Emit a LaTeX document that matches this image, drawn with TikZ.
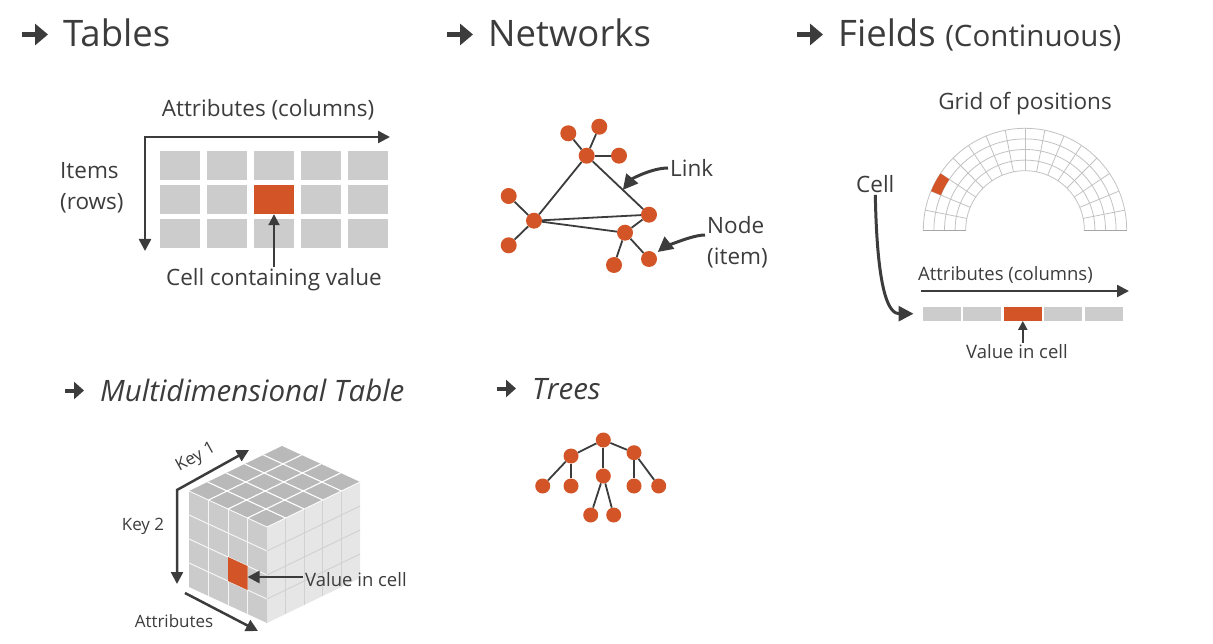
\documentclass[tikz,border=0pt]{standalone}
\usepackage{fontspec}
\setmainfont{Open Sans}
\usetikzlibrary{arrows.meta,calc}

\definecolor{ink}{HTML}{3C3C3C}
\definecolor{accent}{HTML}{D35427}
\definecolor{cellgray}{HTML}{CCCCCC}
\definecolor{polargrid}{HTML}{C2C2C2}
\definecolor{polarbase}{HTML}{A6A6A6}
\definecolor{cubetop}{HTML}{B9B9B9}
\definecolor{cubeleft}{HTML}{CBCBCB}
\definecolor{cuberight}{HTML}{E6E6E6}

\begin{document}
\begin{tikzpicture}[x=1pt,y=-1pt,
  hdr/.style={font=\fontsize{36.5}{40}\selectfont, text=ink, anchor=base west, inner sep=0pt},
  hdri/.style={font=\fontsize{29.5}{33}\selectfont\itshape, text=ink, anchor=base west, inner sep=0pt},
  hdrarrow/.style={draw=ink, line width=5pt, -{Triangle[length=13pt,width=21pt]}},
  subarrow/.style={draw=ink, line width=4pt, -{Triangle[length=10pt,width=17pt]}},
  lbl/.style={font=\fontsize{22.5}{31}\selectfont, text=ink, inner sep=2pt},
  lbltwo/.style={font=\fontsize{18.5}{22}\selectfont, text=ink, inner sep=2pt},
  lblthree/.style={font=\fontsize{17}{20}\selectfont, text=ink, inner sep=2pt},
  axis/.style={draw=ink, line width=2.5pt,
    {Triangle[length=12pt,width=12pt]}-{Triangle[length=12pt,width=12pt]}},
  axisone/.style={draw=ink, line width=2.5pt, -{Triangle[length=12pt,width=12pt]}},
  ptr/.style={draw=ink, line width=2pt, -{Triangle[length=11pt,width=11pt]}},
  ptrbig/.style={draw=ink, line width=3pt, -{Triangle[length=15pt,width=15pt]}},
  ptrsmall/.style={draw=ink, line width=2pt, -{Triangle[length=9pt,width=9pt]}},
  tcell/.style={fill=cellgray, minimum width=40pt, minimum height=29pt, inner sep=0pt},
  bcell/.style={fill=cellgray, minimum width=38.2pt, minimum height=14pt, inner sep=0pt},
  vert/.style={circle, fill=accent, minimum size=16pt, inner sep=0pt},
  tvert/.style={circle, fill=accent, minimum size=15pt, inner sep=0pt},
  link/.style={draw=ink, line width=1.8pt},
  pgrid/.style={draw=polargrid, line width=0.8pt},
  lgl/.style={draw=white!80!cubeleft, line width=1pt},
  rgl/.style={draw=black!18, line width=0.9pt},
  tgl/.style={draw=white, line width=1.1pt}
]
\useasboundingbox (0,0) rectangle (1213,644);

% ---------- section headings ----------
\node[hdr] (hTables) at (63,47) {Tables};
\draw[hdrarrow] ([shift={(-41pt,12.5pt)}]hTables.base west) -- ++(26,0);
\node[hdr] (hNet) at (488,47) {Networks};
\draw[hdrarrow] ([shift={(-41pt,12.5pt)}]hNet.base west) -- ++(26,0);
\node[hdr] (hFields) at (838,47) {Fields {\fontsize{29.5}{32}\selectfont(Continuous)}};
\draw[hdrarrow] ([shift={(-41pt,12.5pt)}]hFields.base west) -- ++(26,0);
\node[hdri] (hMulti) at (100,401) {Multidimensional Table};
\draw[subarrow] ([shift={(-35pt,10.5pt)}]hMulti.base west) -- ++(19,0);
\node[hdri] (hTrees) at (532,399) {Trees};
\draw[subarrow] ([shift={(-35pt,10.5pt)}]hTrees.base west) -- ++(19,0);

% ---------- table ----------
\foreach \i in {0,...,4}
  \foreach \j in {0,...,2}
    \node[tcell] (t\i\j) at (180+47*\i, 165.5+34*\j) {};
\node[tcell, fill=accent] (tval) at (t21) {};
\coordinate (tcorner) at (145,137);
\coordinate (tcolEnd) at (390,137);
\coordinate (trowEnd) at (145,251);
\draw[axis] (tcolEnd) -- (tcorner) -- (trowEnd);
\node[lbl] (lAttrT) at (268,110) {Attributes (columns)};
\node[lbl, align=left, anchor=west] (lItems) at (58,188) {Items\\(rows)};
\node[lbl] (lCellT) at (274,280) {Cell containing value};
\draw[ptr] (lCellT.north -| tval) -- (tval.south);

% ---------- network ----------
\foreach \n/\x/\y in {nTL/568.3/133.3, nT/599.3/126.7, hub/586.7/155.7, nTR/619/155.7,
    lhub/534/220.7, nL1/508.7/196, nL2/508.7/245.3, nR/649/214.7,
    rhub/625/232.7, nB1/614/265, nB2/649/259}
  \node[vert] (\n) at (\x,\y) {};
\foreach \a/\b in {hub/nTL, hub/nT, hub/nTR, hub/lhub, hub/nR, lhub/nL1, lhub/nL2,
    lhub/nR, lhub/rhub, rhub/nR, rhub/nB1, rhub/nB2}
  \draw[link] (\a) -- (\b);
\node[lbl, anchor=west] (lLink) at (668,168) {Link};
\coordinate (onLink) at ($(hub)!0.58!(nR)$);
\draw[ptrbig] (lLink.west) .. controls +(-16,0) and +(9,-11) .. (onLink);
\node[lbl, align=left, anchor=west] (lNode) at (705,242) {Node\\(item)};
\draw[ptrbig, shorten >=3pt] ([yshift=7pt]lNode.west) .. controls +(-16,0) and +(10,-8) .. (nB2);

% ---------- field: polar grid ----------
\node[lbl] (lGrid) at (1025,104) {Grid of positions};
\coordinate (pc) at (1025,230);
\foreach \r in {59.3,69.9,80.5,91.1,101.7}
  \draw[pgrid] (pc) ++(0:\r pt) arc[start angle=0, end angle=180, radius=\r pt];
\foreach \k in {1,...,15}
  \draw[pgrid] (pc) ++(\k*11.25:59.3pt) -- ++(\k*11.25:42.4pt);
\draw[draw=polarbase, line width=0.9pt] (pc) ++(0:59.3pt) -- ++(0:42.4pt);
\draw[draw=polarbase, line width=0.9pt] (pc) ++(180:59.3pt) -- ++(180:42.4pt);
\fill[accent] (pc) ++(146.25:91.1pt) arc[start angle=146.25, end angle=157.5, radius=91.1pt]
  -- ++(157.5:10.6pt) arc[start angle=157.5, end angle=146.25, radius=101.7pt] -- cycle;

% ---------- field: attribute bar ----------
\node[lbl, anchor=west] (lCellF) at (854,184) {Cell};
\foreach \i in {0,...,4}
  \node[bcell] (b\i) at (941.8+40.5*\i, 313.7) {};
\node[bcell, fill=accent] (bval) at (b2) {};
\coordinate (fa0) at (921,291);
\coordinate (fa1) at (1129,291);
\draw[axisone] (fa0) -- (fa1);
\node[lbltwo, anchor=west] (lAttrF) at (916,275) {Attributes (columns)};
\draw[ptrbig, shorten >=9pt] (lCellF.south) .. controls +(2,105) and +(-32,0) .. (b0.west);
\node[lbltwo] (lValF) at (1017,352) {Value in cell};
\draw[ptrsmall] (lValF.north -| bval) -- (bval.south);

% ---------- multidimensional cube ----------
\coordinate (cL) at (189,491);
\coordinate (cF) at (267,527);
\coordinate (cR) at (360,482);
\coordinate (cB) at (282,446);
\fill[cubeleft] (cL) -- (cF) -- ++(0,96) -- ($(cL)+(0,96)$) -- cycle;
\foreach \i in {1,2,3}
  \draw[lgl] ($(cL)+\i*(19.5,9)$) -- ++(0,96);
\foreach \j in {1,2,3}
  \draw[lgl] ($(cL)+(0,24*\j)$) -- ($(cF)+(0,24*\j)$);
\fill[cuberight] (cF) -- (cR) -- ++(0,96) -- ($(cF)+(0,96)$) -- cycle;
\foreach \i in {1,...,4}
  \draw[rgl] ($(cF)+\i*(18.6,-9)$) -- ++(0,96);
\foreach \j in {1,2,3}
  \draw[rgl] ($(cF)+(0,24*\j)$) -- ($(cR)+(0,24*\j)$);
\fill[cubetop] (cL) -- (cF) -- (cR) -- (cB) -- cycle;
\foreach \i in {1,2,3}
  \draw[tgl] ($(cL)+\i*(19.5,9)$) -- ++(93,-45);
\foreach \m in {1,...,4}
  \draw[tgl] ($(cL)+\m*(18.6,-9)$) -- ++(78,36);
\draw[draw=white, line width=0.8pt] (cL) -- (cF) -- (cR);
\fill[accent] ($(cL)+2*(19.5,9)+(0,48)$) -- ++(19.5,9) -- ++(0,24) -- ++(-19.5,-9) -- cycle;
\coordinate (cubeVal) at ($(cL)+3*(19.5,9)+(0,59)$);

\coordinate (kCorner) at (177,490);
\coordinate (k1End) at (249,450);
\coordinate (k2End) at (177,584);
\draw[axis] (k1End) -- (kCorner) -- (k2End);
\coordinate (aStart) at (185,593);
\coordinate (aEnd) at (258,631);
\draw[axisone] (aStart) -- (aEnd);
\node[lblthree, rotate=29, inner sep=0pt] (lKey1) at (196,458) {Key 1};
\node[lblthree] (lKey2) at (143,526) {Key 2};
\node[lblthree] (lAttrC) at (174,621) {Attributes};
\node[lbltwo, anchor=west] (lValC) at (303,580) {Value in cell};
\draw[axisone] (lValC.west |- cubeVal) -- (cubeVal);

% ---------- tree ----------
\foreach \n/\x/\y in {root/603.3/440, cA/571/456, cB2/603.3/476, cC/634/452.7,
    lA1/542.7/486, lA2/571/486, lC1/634/486, lC2/658.7/486, lB1/590.7/515, lB2/613.7/515}
  \node[tvert] (\n) at (\x,\y) {};
\foreach \a/\b in {root/cA, root/cB2, root/cC, cA/lA1, cA/lA2, cC/lC1, cC/lC2, cB2/lB1, cB2/lB2}
  \draw[link] (\a) -- (\b);
\end{tikzpicture}
\end{document}
